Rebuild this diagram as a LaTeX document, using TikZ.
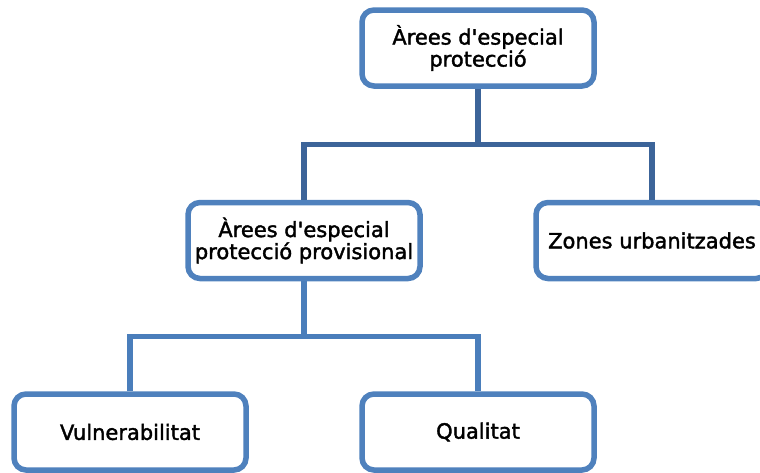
\documentclass[tikz,border=0pt]{standalone}
\usepackage{fontspec}
\setmainfont{DejaVu Sans}
\newfontface\areafont{DejaVu Sans}[FakeBold=1.8]
\usepackage{tikz}
\usetikzlibrary{positioning, calc}
\definecolor{cBox}{RGB}{79,129,189}
\definecolor{cTop}{RGB}{60,100,153}
\definecolor{cSub}{RGB}{74,126,187}

\begin{document}
\begin{tikzpicture}[x=1pt, y=-1pt,
    area/.style={draw=cBox, line width=5.5pt, fill=white, rounded corners=12pt,
        minimum width=232pt, minimum height=76pt, align=center,
        font=\areafont\fontsize{21}{22}\selectfont},
    link/.style={line width=5.5pt}]

    \useasboundingbox (0,0) rectangle (760,472);
    \clip (0,0) rectangle (760,472);

    % --- Boxes ---
    \node[area] (top)  at (478,48)    {Àrees d\textquotesingle especial\\protecció};
    \node[area] (prov) at (304,240.5) {Àrees d\textquotesingle especial\\protecció provisional};
    \node[area] (urb)  at (652,240.5) {Zones urbanitzades};
    \node[area] (vuln) at (130,432)   {Vulnerabilitat};
    \node[area] (qual) at (478,432)   {Qualitat};

    % --- Junctions ---
    \coordinate (j1) at (478,144.5);
    \coordinate (j2) at (304,336.5);

    % --- First level ---
    \draw[link, cTop] (top.south) -- (j1);
    \draw[link, cTop] (prov.north) |- (j1) -| (urb.north);

    % --- Second level ---
    \draw[link, cSub] (prov.south) -- (j2);
    \draw[link, cSub] (vuln.north) |- (j2) -| (qual.north);

\end{tikzpicture}
\end{document}
